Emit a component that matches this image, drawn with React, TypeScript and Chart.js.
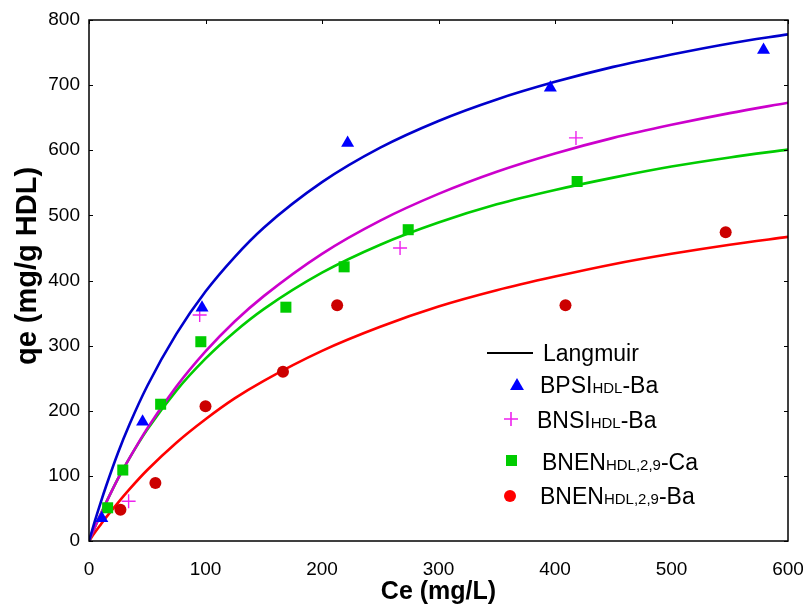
import React, { useEffect, useRef } from 'react';
import { Chart, registerables } from 'chart.js';

Chart.register(...registerables);

// Axis ticks
const xTickValues = [0, 100, 200, 300, 400, 500, 600];
const yTickValues = [0, 100, 200, 300, 400, 500, 600, 700, 800];

// Axis titles
const xTitle = 'Ce (mg/L)';
const yTitle = 'qe (mg/g HDL)';

// Langmuir fit curves
const curveCe = [0, 5, 10, 15, 25, 35, 50, 75, 100, 125, 150, 200, 250, 300, 350, 400, 450, 500, 550, 600];
const fitBPSI = [0, 30.5, 59, 86, 136, 180, 238, 318, 383, 436, 481, 551, 604, 645, 678, 705, 728, 747, 764, 778];
const fitBNSI = [0, 21, 41, 60, 96, 128, 173, 237, 291, 337, 376, 441, 492, 533, 567, 595, 619, 639, 657, 673];
const fitBNENCa = [0, 21, 41, 60, 96, 128, 171, 231, 280, 321, 356, 412, 455, 489, 517, 539, 558, 575, 589, 601];
const fitBNENBa = [0, 13, 25, 37, 59, 80, 109, 151, 187, 219, 246, 292, 329, 360, 385, 406, 425, 441, 455, 467];

// Experimental points
const bpsiCe = [11, 46, 97, 222, 396, 579];
const bpsiQe = [35, 183, 358, 611, 696, 754];
const bnsiCe = [34, 95, 267, 418];
const bnsiQe = [61, 347, 450, 619];
const caCe = [16, 29, 61.5, 96, 169, 219, 274, 419];
const caQe = [51, 109, 210, 306, 359, 421, 478, 552];
const baCe = [27, 57, 100, 166.5, 213, 409, 546.5];
const baQe = [48, 89, 207, 260, 362, 362, 474];

// Legend labels: [main, subscript, suffix]
const legendLangmuir = 'Langmuir';
const legendBPSI = ['BPSI', 'HDL', '-Ba'];
const legendBNSI = ['BNSI', 'HDL', '-Ba'];
const legendCa = ['BNEN', 'HDL,2,9', '-Ca'];
const legendBa = ['BNEN', 'HDL,2,9', '-Ba'];

const FONT = '"Liberation Sans", Arial, Helvetica, sans-serif';

const BLUE_LINE = '#0000CC';
const BLUE_PT = '#0000FF';
const MAG_LINE = '#CC00CC';
const MAG_PT = '#EE22EE';
const GREEN = '#00CC00';
const RED_LINE = '#FF0000';
const RED_PT = '#CC0000';

const zip = (xs: number[], ys: number[]) => xs.map((x, i) => ({ x, y: ys[i] }));

function drawTriangle(ctx: CanvasRenderingContext2D, x: number, y: number, r: number, color: string) {
  ctx.beginPath();
  for (let k = 0; k < 3; k++) {
    const a = (k * 2 * Math.PI) / 3;
    const px = x + Math.sin(a) * r;
    const py = y - Math.cos(a) * r;
    if (k === 0) ctx.moveTo(px, py);
    else ctx.lineTo(px, py);
  }
  ctx.closePath();
  ctx.fillStyle = color;
  ctx.fill();
}

function drawRich(ctx: CanvasRenderingContext2D, x: number, baseline: number, parts: string[]) {
  ctx.fillStyle = '#000';
  ctx.textBaseline = 'alphabetic';
  ctx.textAlign = 'left';
  let cx = x;
  ctx.font = `23px ${FONT}`;
  ctx.fillText(parts[0], cx, baseline);
  cx += ctx.measureText(parts[0]).width;
  ctx.font = `15px ${FONT}`;
  ctx.fillText(parts[1], cx, baseline);
  cx += ctx.measureText(parts[1]).width;
  ctx.font = `23px ${FONT}`;
  ctx.fillText(parts[2], cx, baseline);
}

const framePlugin = {
  id: 'framePlugin',
  afterDatasetsDraw(chart: any) {
    const { ctx, chartArea } = chart;
    const { left, right, top, bottom } = chartArea;
    const xs = chart.scales.x;
    const ys = chart.scales.y;
    ctx.save();
    ctx.strokeStyle = '#000';
    ctx.lineWidth = 1.5;
    ctx.strokeRect(left, top, right - left, bottom - top);
    ctx.lineWidth = 1;
    ctx.beginPath();
    const tl = 4;
    yTickValues.forEach((v) => {
      const py = Math.round(ys.getPixelForValue(v)) + 0.5;
      ctx.moveTo(left, py);
      ctx.lineTo(left + tl, py);
      ctx.moveTo(right, py);
      ctx.lineTo(right - tl, py);
    });
    xTickValues.forEach((v) => {
      const px = Math.round(xs.getPixelForValue(v)) + 0.5;
      ctx.moveTo(px, top);
      ctx.lineTo(px, top + tl);
    });
    ctx.stroke();
    ctx.restore();
  },
  afterDraw(chart: any) {
    const ctx: CanvasRenderingContext2D = chart.ctx;
    ctx.save();
    // Y axis title
    ctx.save();
    ctx.translate(28, 266);
    ctx.rotate(-Math.PI / 2);
    ctx.font = `bold 29px ${FONT}`;
    ctx.fillStyle = '#000';
    ctx.textAlign = 'center';
    ctx.textBaseline = 'middle';
    ctx.fillText(yTitle, 0, 0);
    ctx.restore();

    // Langmuir line
    ctx.strokeStyle = '#000';
    ctx.lineWidth = 2;
    ctx.beginPath();
    ctx.moveTo(487, 353);
    ctx.lineTo(533, 353);
    ctx.stroke();
    ctx.font = `23px ${FONT}`;
    ctx.fillStyle = '#000';
    ctx.textBaseline = 'alphabetic';
    ctx.textAlign = 'left';
    ctx.fillText(legendLangmuir, 543, 361);

    // BPSI
    drawTriangle(ctx, 517, 386, 8, BLUE_PT);
    drawRich(ctx, 540, 393, legendBPSI);

    // BNSI
    ctx.strokeStyle = MAG_PT;
    ctx.lineWidth = 1.6;
    ctx.beginPath();
    ctx.moveTo(504, 419);
    ctx.lineTo(518, 419);
    ctx.moveTo(511, 412);
    ctx.lineTo(511, 426);
    ctx.stroke();
    drawRich(ctx, 537, 428, legendBNSI);

    // BNEN Ca
    ctx.fillStyle = GREEN;
    ctx.fillRect(506, 455, 11, 11);
    drawRich(ctx, 542, 470, legendCa);

    // BNEN Ba
    ctx.fillStyle = '#FF0000';
    ctx.beginPath();
    ctx.arc(510, 496, 6, 0, Math.PI * 2);
    ctx.fill();
    drawRich(ctx, 540, 504, legendBa);
    ctx.restore();
  },
};

export default function App() {
  const canvasRef = useRef<HTMLCanvasElement | null>(null);

  useEffect(() => {
    if (!canvasRef.current) return;
    const lineDs = (label: string, data: number[], color: string) => ({
      label,
      data: zip(curveCe, data),
      showLine: true,
      borderColor: color,
      backgroundColor: color,
      borderWidth: 2.6,
      pointRadius: 0,
      cubicInterpolationMode: 'monotone' as const,
      order: 2,
    });
    const chart = new Chart(canvasRef.current, {
      type: 'scatter',
      data: {
        datasets: [
          {
            label: 'BPSI-Ba',
            data: zip(bpsiCe, bpsiQe),
            pointStyle: 'triangle',
            pointRadius: 7.5,
            backgroundColor: BLUE_PT,
            borderColor: BLUE_PT,
            borderWidth: 0,
            order: 1,
          },
          {
            label: 'BNSI-Ba',
            data: zip(bnsiCe, bnsiQe),
            pointStyle: 'cross',
            pointRadius: 7,
            backgroundColor: MAG_PT,
            borderColor: MAG_PT,
            borderWidth: 1.4,
            order: 1,
          },
          {
            label: 'BNEN-Ca',
            data: zip(caCe, caQe),
            pointStyle: 'rect',
            pointRadius: 7.8,
            backgroundColor: GREEN,
            borderColor: GREEN,
            borderWidth: 0,
            order: 1,
          },
          {
            label: 'BNEN-Ba',
            data: zip(baCe, baQe),
            pointStyle: 'circle',
            pointRadius: 6,
            backgroundColor: RED_PT,
            borderColor: RED_PT,
            borderWidth: 0,
            order: 1,
          },
          lineDs('fit BPSI', fitBPSI, BLUE_LINE),
          lineDs('fit BNSI', fitBNSI, MAG_LINE),
          lineDs('fit Ca', fitBNENCa, GREEN),
          lineDs('fit Ba', fitBNENBa, RED_LINE),
        ],
      },
      options: {
        responsive: false,
        animation: false,
        layout: { padding: { left: 0, right: 15, top: 20, bottom: 0 } },
        plugins: { legend: { display: false }, tooltip: { enabled: false } },
        scales: {
          x: {
            type: 'linear',
            min: 0,
            max: 600,
            afterBuildTicks: (axis: any) => {
              axis.ticks = xTickValues.map((v) => ({ value: v }));
            },
            afterFit: (axis: any) => {
              axis.height = 64;
              axis.paddingLeft = 0;
              axis.paddingRight = 0;
              axis.paddingTop = 0;
              axis.paddingBottom = 0;
            },
            grid: { display: false, drawTicks: false },
            border: { display: false },
            ticks: {
              color: '#000',
              font: { family: FONT, size: 19 },
              padding: 17,
              maxRotation: 0,
            },
            title: {
              display: true,
              text: xTitle,
              color: '#000',
              font: { family: FONT, size: 25, weight: 'bold', lineHeight: 1 },
              padding: { top: 0, bottom: 0 },
            },
          },
          y: {
            type: 'linear',
            min: 0,
            max: 800,
            afterBuildTicks: (axis: any) => {
              axis.ticks = yTickValues.map((v) => ({ value: v }));
            },
            afterFit: (axis: any) => {
              axis.width = 89;
              axis.paddingLeft = 0;
              axis.paddingRight = 0;
              axis.paddingTop = 0;
              axis.paddingBottom = 0;
            },
            grid: { display: false, drawTicks: false },
            border: { display: false },
            ticks: {
              color: '#000',
              font: { family: FONT, size: 19 },
              padding: 9,
            },
            title: { display: false },
          },
        },
      },
      plugins: [framePlugin],
    });
    return () => chart.destroy();
  }, []);

  return (
    <div style={{ position: 'fixed', left: 0, top: 0, width: 803, height: 605, background: '#fff' }}>
      <canvas ref={canvasRef} width={803} height={605} style={{ width: 803, height: 605 }} />
    </div>
  );
}
